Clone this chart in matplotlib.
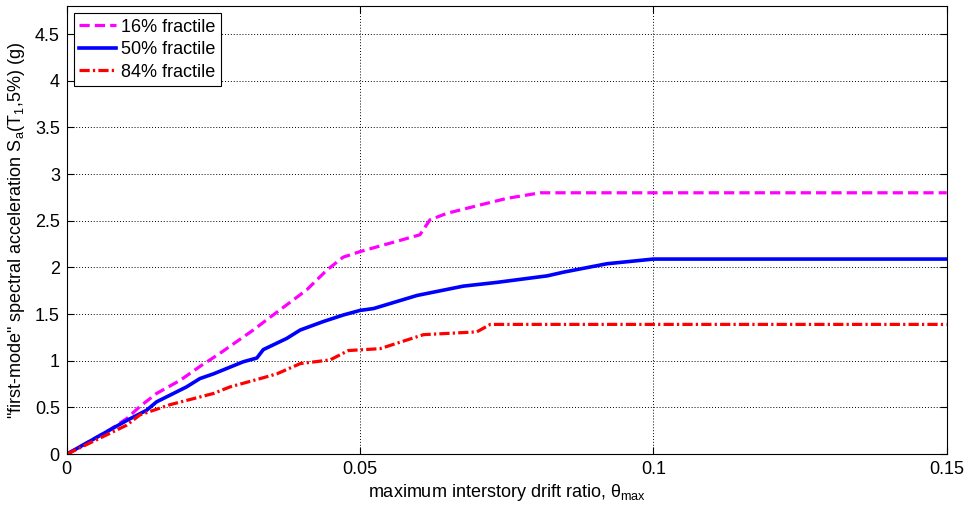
import numpy as np
import matplotlib.pyplot as plt

plt.rcParams['font.family'] = ['Liberation Sans', 'DejaVu Sans']
plt.rcParams['mathtext.default'] = 'regular'

# 16% fractile
x16 = [0, 0.0073, 0.0102, 0.01245, 0.0153, 0.0193, 0.0227, 0.0261, 0.0318, 0.0341,
       0.0409, 0.0443, 0.0471, 0.05, 0.0551, 0.0602, 0.0619, 0.0648, 0.0705, 0.075,
       0.0807, 0.15]
y16 = [0, 0.26, 0.38, 0.51, 0.65, 0.79, 0.94, 1.08, 1.33, 1.44,
       1.76, 1.97, 2.11, 2.17, 2.26, 2.35, 2.51, 2.58, 2.67, 2.74,
       2.80, 2.80]

# 50% fractile
x50 = [0, 0.0102, 0.0136, 0.0153, 0.0204, 0.0227, 0.025, 0.0301, 0.0324, 0.0335,
       0.0375, 0.0398, 0.0437, 0.0471, 0.05, 0.0523, 0.0597, 0.0676, 0.0733, 0.0819,
       0.0847, 0.0921, 0.1, 0.15]
y50 = [0, 0.36, 0.47, 0.56, 0.72, 0.81, 0.86, 0.99, 1.03, 1.12,
       1.24, 1.33, 1.42, 1.49, 1.54, 1.56, 1.70, 1.80, 1.84, 1.91,
       1.95, 2.04, 2.09, 2.09]

# 84% fractile
x84 = [0, 0.0102, 0.01245, 0.0176, 0.025, 0.0278, 0.033, 0.0358, 0.0398, 0.0449,
       0.0480, 0.0534, 0.0608, 0.0699, 0.0722, 0.15]
y84 = [0, 0.31, 0.42, 0.53, 0.65, 0.72, 0.81, 0.86, 0.97, 1.01,
       1.11, 1.13, 1.28, 1.31, 1.39, 1.39]

xticks = [0, 0.05, 0.1, 0.15]
xticklabels = ['0', '0.05', '0.1', '0.15']
yticks = [0, 0.5, 1, 1.5, 2, 2.5, 3, 3.5, 4, 4.5]
yticklabels = ['0', '0.5', '1', '1.5', '2', '2.5', '3', '3.5', '4', '4.5']

fs = 13

fig = plt.figure(figsize=(9.68, 5.08), dpi=100)
ax = fig.add_axes([0.069, 0.106, 0.909, 0.882])

ax.plot(x16, y16, color='#ff00ff', linewidth=2.3, dashes=(3.2, 1.6), label='16% fractile')
ax.plot(x50, y50, color='#0000ff', linestyle='-', linewidth=2.6, label='50% fractile')
ax.plot(x84, y84, color='#ff0000', linewidth=2.3, dashes=(3.2, 1.0, 0.7, 1.0), label='84% fractile')

ax.set_xlim(0, 0.15)
ax.set_ylim(0, 4.8)
ax.set_xticks(xticks)
ax.set_xticklabels(xticklabels)
ax.set_yticks(yticks)
ax.set_yticklabels(yticklabels)
ax.tick_params(direction='in', top=True, right=True, labelsize=fs, length=5, pad=5)
ax.grid(True, color='black', linestyle=(0, (1, 2)), linewidth=0.7)

ax.set_xlabel(r'maximum interstory drift ratio, $\theta_{max}$', fontsize=fs, labelpad=3)
ax.set_ylabel(r'"first-mode" spectral acceleration S$_a$(T$_1$,5%) (g)', fontsize=fs, labelpad=6)

leg = ax.legend(loc='upper left', fontsize=fs, fancybox=False, edgecolor='black',
                framealpha=1, handlelength=2.0, handletextpad=0.3, borderaxespad=0.4,
                borderpad=0.3, labelspacing=0.3)
leg.get_frame().set_linewidth(0.8)

plt.savefig('out.png', dpi=100)
